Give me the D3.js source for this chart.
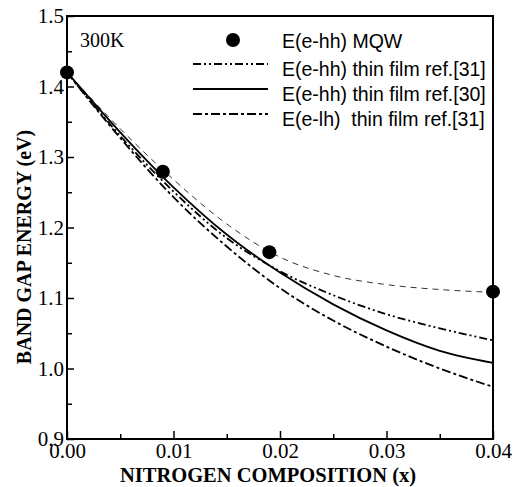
<!DOCTYPE html>
<html lang="en">
<head>
<meta charset="UTF-8" />
<title>Band gap vs nitrogen composition</title>
<script src="https://cdnjs.cloudflare.com/ajax/libs/d3/7.8.5/d3.min.js"></script>
<style>
    body { margin: 0; padding: 0; background: #fff; }
    svg { display: block; }
</style>
</head>
<body>
<svg id="chart" width="517" height="487"></svg>
<script>
    // values
    const xGrid = [0, 0.005, 0.01, 0.015, 0.02, 0.025, 0.03, 0.035, 0.04];
    const mqwX = [0, 0.009, 0.019, 0.04];
    const mqwE = [1.42, 1.279, 1.165, 1.109];
    const fitE = [1.42, 1.340, 1.268, 1.205, 1.158, 1.132, 1.119, 1.112, 1.108];
    const hhRef31 = [1.42, 1.330, 1.251, 1.185, 1.138, 1.104, 1.077, 1.057, 1.040];
    const hhRef30 = [1.42, 1.335, 1.257, 1.190, 1.136, 1.091, 1.054, 1.025, 1.008];
    const lhRef31 = [1.42, 1.327, 1.243, 1.173, 1.114, 1.068, 1.031, 1.000, 0.974];

    const xTicks = [0, 0.01, 0.02, 0.03, 0.04];
    const xMinor = [0.005, 0.015, 0.025, 0.035];
    const yTicks = [0.9, 1.0, 1.1, 1.2, 1.3, 1.4, 1.5];
    const yMinor = [0.95, 1.05, 1.15, 1.25, 1.35, 1.45];

    const legendLabels = [
        "E(e-hh) MQW",
        "E(e-hh) thin film ref.[31]",
        "E(e-hh) thin film ref.[30]",
        "E(e-lh)  thin film ref.[31]"
    ];

    const serif = "'Liberation Serif', 'Times New Roman', serif";
    const sans = "'Liberation Sans', Arial, sans-serif";

    const svg = d3.select("#chart");
    const plotL = 67, plotR = 493, plotT = 16, plotB = 439;

    const x = d3.scaleLinear().domain([0, 0.04]).range([plotL, plotR]);
    const y = d3.scaleLinear().domain([0.9, 1.5]).range([plotB, plotT]);

    // minor ticks
    svg.append("g")
        .attr("transform", `translate(0,${plotB})`)
        .call(d3.axisBottom(x).tickValues(xMinor).tickSize(-5).tickFormat(""))
        .call(g => g.select(".domain").remove())
        .selectAll("line").attr("stroke-width", 1.5);
    svg.append("g")
        .attr("transform", `translate(${plotL},0)`)
        .call(d3.axisLeft(y).tickValues(yMinor).tickSize(-5).tickFormat(""))
        .call(g => g.select(".domain").remove())
        .selectAll("line").attr("stroke-width", 1.5);

    // major ticks + labels
    const xAxis = svg.append("g")
        .attr("transform", `translate(0,${plotB})`)
        .call(d3.axisBottom(x).tickValues(xTicks).tickSize(-8).tickPadding(6).tickFormat(d3.format(".2f")));
    xAxis.select(".domain").remove();
    xAxis.selectAll("line").attr("stroke-width", 1.5);
    xAxis.selectAll("text")
        .attr("font-family", serif).attr("font-size", 21).attr("dy", "0.6em");

    const yAxis = svg.append("g")
        .attr("transform", `translate(${plotL},0)`)
        .call(d3.axisLeft(y).tickValues(yTicks).tickSize(-7).tickPadding(3).tickFormat(d3.format(".1f")));
    yAxis.select(".domain").remove();
    yAxis.selectAll("line").attr("stroke-width", 1.5);
    yAxis.selectAll("text")
        .attr("font-family", serif).attr("font-size", 21).attr("dy", "0.33em");

    // frame
    svg.append("rect")
        .attr("x", plotL).attr("y", plotT)
        .attr("width", plotR - plotL).attr("height", plotB - plotT)
        .attr("fill", "none").attr("stroke", "#000").attr("stroke-width", 2);

    const line = d3.line()
        .x((d, i) => x(xGrid[i]))
        .y(d => y(d))
        .curve(d3.curveMonotoneX);

    const curves = [
        { vals: fitE, dash: "6,5", width: 1, color: "#333" },
        { vals: hhRef31, dash: "8,3,2,3,2,3", width: 1.8, color: "#000" },
        { vals: hhRef30, dash: null, width: 1.8, color: "#000" },
        { vals: lhRef31, dash: "9,3,3,3", width: 1.8, color: "#000" }
    ];

    svg.append("g").selectAll("path")
        .data(curves)
        .join("path")
        .attr("d", d => line(d.vals))
        .attr("fill", "none")
        .attr("stroke", d => d.color)
        .attr("stroke-width", d => d.width)
        .attr("stroke-dasharray", d => d.dash);

    svg.append("g").selectAll("circle")
        .data(mqwX)
        .join("circle")
        .attr("cx", d => x(d))
        .attr("cy", (d, i) => y(mqwE[i]))
        .attr("r", 7)
        .attr("fill", "#000");

    // axis titles
    svg.append("text")
        .attr("x", (plotL + plotR) / 2 - 12)
        .attr("y", 482)
        .attr("text-anchor", "middle")
        .attr("font-family", serif)
        .attr("font-weight", "bold")
        .attr("font-size", 20.5)
        .text("NITROGEN COMPOSITION (x)");

    svg.append("text")
        .attr("transform", "translate(31,247) rotate(-90)")
        .attr("text-anchor", "middle")
        .attr("font-family", serif)
        .attr("font-weight", "bold")
        .attr("font-size", 20)
        .text("BAND GAP ENERGY (eV)");

    svg.append("text")
        .attr("x", 80).attr("y", 47)
        .attr("font-family", serif)
        .attr("font-size", 20)
        .text("300K");

    // legend
    const legend = svg.append("g");
    const rowText = [48, 76, 101, 126];
    const rowMark = [40, 64, 89, 114];
    legend.append("circle")
        .attr("cx", 233).attr("cy", rowMark[0]).attr("r", 7).attr("fill", "#000");
    curves.slice(1).forEach((c, i) => {
        legend.append("line")
            .attr("x1", 193).attr("x2", 268)
            .attr("y1", rowMark[i + 1]).attr("y2", rowMark[i + 1])
            .attr("stroke", c.color)
            .attr("stroke-width", c.width)
            .attr("stroke-dasharray", c.dash);
    });
    legend.selectAll("text")
        .data(legendLabels)
        .join("text")
        .attr("x", 282)
        .attr("y", (d, i) => rowText[i])
        .attr("font-family", sans)
        .attr("font-size", 19.5)
        .style("white-space", "pre")
        .text(d => d);
</script>
</body>
</html>
